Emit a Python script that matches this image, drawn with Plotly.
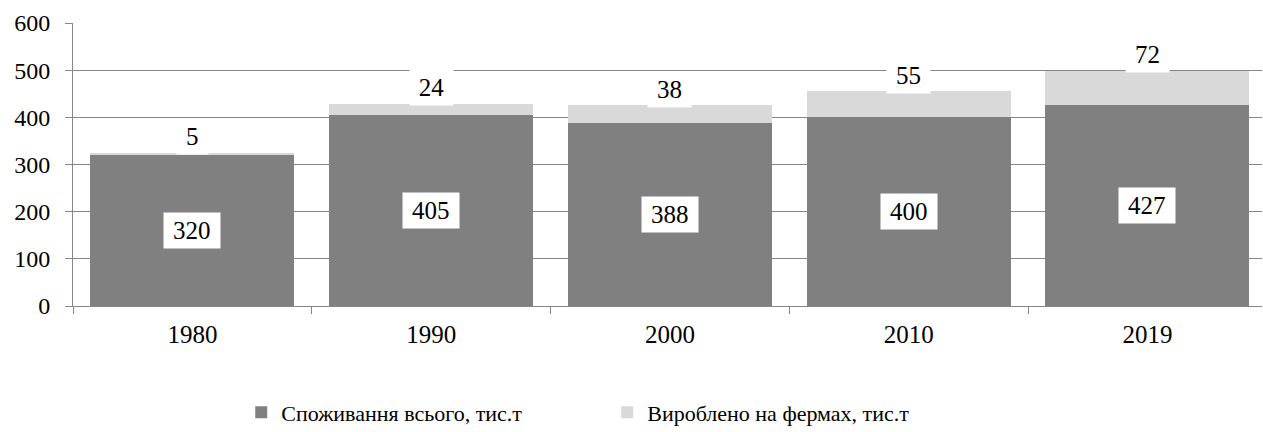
import plotly.graph_objects as go

years = ["1980", "1990", "2000", "2010", "2019"]
consumption = [320, 405, 388, 400, 427]
farm_produced = [5, 24, 38, 55, 72]

font_family = "Liberation Serif, Times New Roman, serif"
label_size = 25

fig = go.Figure()
fig.add_trace(go.Bar(x=years, y=consumption, name="Споживання всього, тис.т",
                     marker=dict(color="#808080", line=dict(width=0))))
fig.add_trace(go.Bar(x=years, y=farm_produced, name="Вироблено на фермах, тис.т",
                     marker=dict(color="#d9d9d9", line=dict(width=0))))

# annotations on a category axis use the category index
for i, (c, f) in enumerate(zip(consumption, farm_produced)):
    fig.add_annotation(x=i, y=c / 2, text=str(c), showarrow=False,
                       font=dict(size=label_size, color="black", family=font_family),
                       bgcolor="white", borderpad=4, width=len(str(c)) * 12.5 + 10)
    fig.add_annotation(x=i, y=c + f, text=str(f), showarrow=False, yanchor="middle",
                       yshift=16, font=dict(size=label_size, color="black", family=font_family),
                       bgcolor="white", borderpad=4, width=len(str(f)) * 12.5 + 10)

fig.update_layout(
    barmode="stack",
    bargap=0.146,
    width=1263, height=432,
    margin=dict(l=73, r=1, t=23, b=126, autoexpand=False),
    paper_bgcolor="white", plot_bgcolor="white",
    font=dict(family=font_family, size=22, color="black"),
    showlegend=True,
    legend=dict(orientation="h", xref="container", yref="container",
                x=0.191, xanchor="left", y=0.045, yanchor="middle",
                font=dict(size=22), entrywidth=321, traceorder="normal"),
)
fig.update_xaxes(type="category", range=[-0.5, len(years) - 0.52], automargin=False,
                 showline=True, linecolor="#868686", linewidth=1,
                 ticks="outside", ticklen=7, tickcolor="#868686", tickson="boundaries",
                 tickfont=dict(size=25), showgrid=False, tickangle=0, ticklabelstandoff=6)
fig.update_yaxes(range=[0, 600], dtick=100, automargin=False,
                 showline=True, linecolor="#868686", linewidth=1,
                 ticks="outside", ticklen=7, tickcolor="#868686",
                 gridcolor="#868686", gridwidth=1, tickfont=dict(size=24), zeroline=False,
                 ticklabelstandoff=10)

fig.write_html("out.html", config={"displayModeBar": False},
               post_script="document.body.style.margin='0';document.body.style.overflow='hidden';")
